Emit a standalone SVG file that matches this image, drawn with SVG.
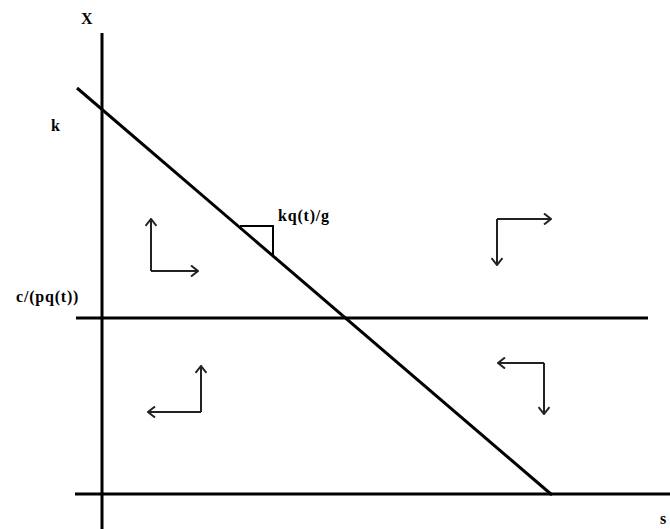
<svg xmlns="http://www.w3.org/2000/svg" width="670" height="529" viewBox="0 0 670 529">
<style>
.ax{stroke:#000;stroke-width:3;fill:none}
.thin{stroke:#000;stroke-width:2;fill:none}
.ar{stroke:#222;stroke-width:2;fill:none}
.lbl{font-family:"Liberation Serif",serif;font-weight:bold;font-size:16px;letter-spacing:0.8px;fill:#000}
</style>
<defs>
<marker id="chev" viewBox="0 0 10 12" refX="9" refY="6" markerWidth="10" markerHeight="12" markerUnits="userSpaceOnUse" orient="auto">
<path d="M2,0.5 L9,6 L2,11.5" fill="none" stroke="#222" stroke-width="2"/>
</marker>
</defs>
<rect width="670" height="529" fill="#fff"/>
<g id="axes">
<line class="ax" x1="102" y1="33" x2="102" y2="529"/>
<line class="ax" x1="76" y1="318" x2="648" y2="318"/>
<line class="ax" x1="75" y1="494" x2="670" y2="494"/>
<line class="ax" x1="77" y1="88" x2="552" y2="495"/>
</g>
<g id="slope">
<polyline class="thin" points="240,226 273,226 273,257"/>
<text class="lbl" x="278" y="221">kq(t)/g</text>
</g>
<g id="labels">
<text class="lbl" x="81" y="24">X</text>
<text class="lbl" x="51" y="131">k</text>
<text class="lbl" x="16" y="302">c/(pq(t))</text>
<text class="lbl" x="660" y="524">s</text>
</g>
<g id="connectors">
<path class="ar" d="M151,271 L151,219" marker-end="url(#chev)"/>
<path class="ar" d="M151,271 L198,271" marker-end="url(#chev)"/>
<path class="ar" d="M497,219 L551,219" marker-end="url(#chev)"/>
<path class="ar" d="M497,219 L497,265" marker-end="url(#chev)"/>
<path class="ar" d="M201,412 L201,366" marker-end="url(#chev)"/>
<path class="ar" d="M201,412 L148,412" marker-end="url(#chev)"/>
<path class="ar" d="M544,363 L498,363" marker-end="url(#chev)"/>
<path class="ar" d="M544,363 L544,414" marker-end="url(#chev)"/>
</g>
</svg>
